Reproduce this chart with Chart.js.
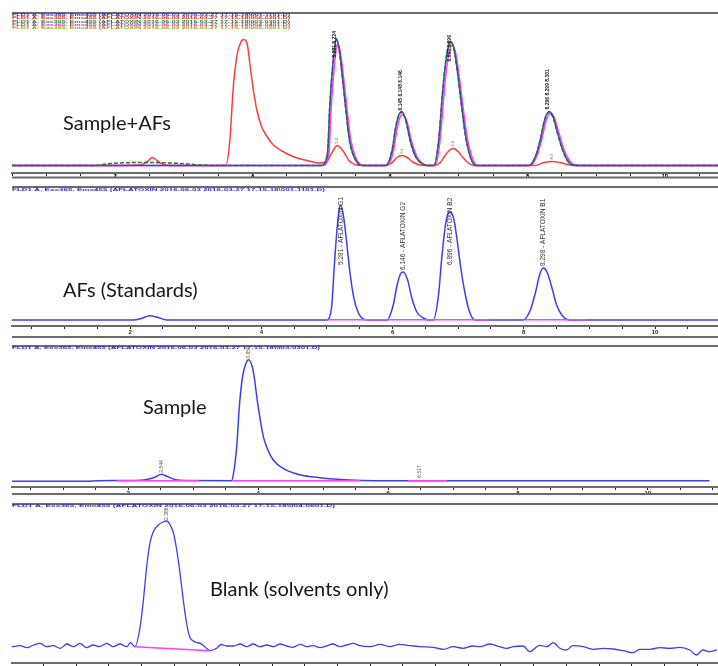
<!DOCTYPE html>
<html>
<head>
<meta charset="utf-8">
<script src="https://cdn.jsdelivr.net/npm/chart.js@4.4.1/dist/chart.umd.min.js"></script>
<style>
  body { margin: 0; background: #fff; }
  #wrap { position: relative; width: 718px; height: 666px; overflow: hidden; }
  canvas { position: absolute; left: 0; }
</style>
</head>
<body>
<div id="wrap">
  <canvas id="p1" width="718" height="182" style="top:0px"></canvas>
  <canvas id="p2" width="718" height="159" style="top:182px"></canvas>
  <canvas id="p3" width="718" height="159" style="top:341px"></canvas>
  <canvas id="p4" width="718" height="166" style="top:500px"></canvas>
</div>
<script>
// ---- data: [time (min), signal] ----

// panel 1: Sample + AFs (overlay of several runs)
const p1Red = [[0.50,0],[1.78,0],[2.36,0.5],[2.47,4],[2.54,8],[2.61,5],[2.70,1],[2.80,0],[3.61,0],[3.67,26],[3.72,79],[3.77,109],[3.82,122],[3.87,126],[3.92,122],[3.96,102],[4.01,76],[4.06,56],[4.13,39],[4.21,29],[4.30,20.7],[4.44,14],[4.59,9],[4.79,5],[4.98,2.5],[5.08,4],[5.14,11],[5.19,17],[5.23,20],[5.29,17],[5.35,11],[5.40,5],[5.49,1],[5.59,0],[5.94,0],[6.03,3],[6.10,8],[6.17,10],[6.25,8],[6.32,4],[6.41,1],[6.49,0],[6.65,0],[6.73,3],[6.80,10],[6.86,15],[6.92,17],[6.99,14],[7.06,8],[7.13,3],[7.22,0],[8.11,0],[8.24,3],[8.36,4],[8.47,3],[8.62,0.5],[8.73,0],[10.77,0]];
const p1Green = [[0.50,0],[1.68,0],[1.93,2],[2.51,3],[2.95,2],[3.24,0.5],[3.45,0],[5.00,0],[5.09,13],[5.12,57],[5.16,96],[5.20,122],[5.22,126],[5.26,115],[5.31,85],[5.36,53],[5.41,24],[5.48,8],[5.55,1],[5.61,0],[5.94,0],[6.03,16],[6.08,38],[6.13,51],[6.17,53],[6.23,44],[6.29,25],[6.37,9],[6.46,2],[6.53,0],[6.64,0],[6.71,28],[6.76,71],[6.81,105],[6.86,122],[6.88,123],[6.93,116],[6.98,93],[7.04,59],[7.10,28],[7.17,8],[7.25,0],[8.02,0],[8.12,10],[8.19,28],[8.25,46],[8.31,53],[8.37,48],[8.43,33],[8.51,15],[8.58,5],[8.65,0.5],[8.75,0],[10.77,0]];
const p1Blue = [[0.50,0],[5.00,0],[5.09,12],[5.12,55],[5.16,95],[5.20,121],[5.22,127],[5.26,116],[5.31,86],[5.36,54],[5.41,25],[5.48,8],[5.55,1],[5.61,0],[5.94,0],[6.03,15],[6.08,37],[6.13,51],[6.17,54],[6.23,45],[6.29,26],[6.37,9],[6.46,2],[6.53,0],[6.64,0],[6.71,27],[6.76,70],[6.81,104],[6.86,122],[6.88,124],[6.93,117],[6.98,94],[7.04,60],[7.10,29],[7.17,8],[7.25,0],[8.02,0],[8.12,10],[8.19,27],[8.25,46],[8.31,54],[8.37,49],[8.43,34],[8.51,16],[8.58,5],[8.65,0.5],[8.75,0],[10.77,0]];
const p1Magenta = [[0.50,0],[5.02,0],[5.11,12],[5.14,54],[5.18,92],[5.22,118],[5.24,122],[5.28,112],[5.33,84],[5.38,53],[5.43,25],[5.50,8],[5.57,1],[5.63,0],[5.96,0],[6.05,15],[6.10,36],[6.15,49],[6.19,51],[6.25,43],[6.31,25],[6.39,9],[6.48,2],[6.55,0],[6.66,0],[6.73,27],[6.78,68],[6.83,101],[6.88,118],[6.90,120],[6.95,114],[7.00,92],[7.06,59],[7.12,29],[7.19,9],[7.27,0],[8.04,0],[8.14,10],[8.21,27],[8.27,45],[8.33,52],[8.39,48],[8.45,34],[8.53,16],[8.60,6],[8.67,1],[8.77,0],[10.77,0]];

// panel 2: AFs (standards)
const p2Blue = [[0.20,0],[2.05,0],[2.17,1.5],[2.30,4.3],[2.43,2.5],[2.56,0],[4.99,0],[5.07,12],[5.11,52],[5.15,88],[5.19,112],[5.21,115],[5.25,105],[5.30,78],[5.35,48],[5.41,22],[5.48,7],[5.55,1],[5.63,0],[5.92,0],[6.01,15],[6.07,35],[6.12,46],[6.16,48],[6.23,40],[6.29,23],[6.37,8],[6.47,2],[6.55,0],[6.62,0],[6.70,25],[6.75,62],[6.80,92],[6.85,107],[6.88,108],[6.93,102],[6.98,82],[7.04,52],[7.11,25],[7.18,7],[7.26,0],[7.99,0],[8.10,10],[8.18,28],[8.24,45],[8.30,52],[8.36,47],[8.43,32],[8.50,15],[8.58,5],[8.66,0.5],[8.75,0],[10.96,0]];
const p2Base = [[4.99,0.3],[7.48,0.3],[7.50,null],[8.01,0.3],[8.96,0.3]];
const p2PeakT = [5.21, 6.16, 6.88, 8.30];
const p2PeakH = [55, 50, 55, 54];
const p2PeakNames = ["5.281 - AFLATOXIN G1", "6.146 - AFLATOXIN G2", "6.896 - AFLATOXIN B2", "8.298 - AFLATOXIN B1"];

// panel 3: sample
const p3Blue = [[0.21,-0.5],[1.35,-0.5],[1.55,0],[2.10,0.3],[2.26,1],[2.41,3.5],[2.51,6.4],[2.61,4],[2.73,1],[2.90,0.2],[3.59,0],[3.62,7],[3.67,34],[3.71,74],[3.76,104],[3.81,117],[3.85,121],[3.92,111],[4.00,74],[4.08,44],[4.13,34],[4.23,21],[4.39,12],[4.64,6],[4.95,3],[5.41,0.7],[5.80,0],[10.95,0]];
const p3Base = [[1.82,0],[3.09,0],[3.30,null],[3.60,0],[5.57,0],[5.90,null],[6.31,0],[6.91,0]];

// panel 4: blank (solvents only)
const p4Blue = [[0.02,0.3],[0.14,1.3],[0.25,-0.7],[0.35,2],[0.45,3.7],[0.55,0.3],[0.65,1.3],[0.76,-1.3],[0.86,3],[0.96,0.3],[1.06,3.7],[1.16,-0.7],[1.26,2],[1.36,0.3],[1.47,3.7],[1.57,0.3],[1.67,3],[1.78,0.3],[1.83,4.3],[1.90,0.3],[1.98,20],[2.03,47],[2.08,80],[2.13,104],[2.18,115],[2.26,122],[2.33,125],[2.39,126],[2.44,122],[2.49,114],[2.54,97],[2.59,74],[2.64,47],[2.69,24],[2.74,10],[2.82,5],[2.90,3.7],[2.97,0.3],[3.05,-3.7],[3.15,-1.3],[3.22,2.5],[3.30,1],[3.41,1],[3.51,3],[3.61,0.3],[3.71,3],[3.81,0.3],[3.92,2],[4.02,0.3],[4.12,3],[4.22,1],[4.32,-0.3],[4.43,2.7],[4.53,0.3],[4.63,1.3],[4.73,-0.7],[4.83,1],[4.93,3],[5.04,0.3],[5.14,2],[5.24,3.7],[5.34,1.3],[5.50,0.3],[5.65,2.7],[5.80,0.3],[5.95,2.7],[6.11,1.3],[6.26,0.3],[6.46,-0.3],[6.62,-2.3],[6.77,0.3],[6.92,-1.3],[7.07,1],[7.18,0.3],[7.33,3],[7.48,0.3],[7.59,-1.3],[7.69,0.3],[7.84,1],[7.94,-4.7],[8.09,1.7],[8.20,0.3],[8.30,4.3],[8.40,-1.3],[8.50,-3],[8.60,1.3],[8.76,0.3],[8.91,-2.3],[9.06,-1.3],[9.22,-2],[9.37,-3.7],[9.52,-5.7],[9.62,-2.3],[9.78,-2.3],[9.93,-0.7],[10.08,-1.3],[10.24,-0.3],[10.39,-3],[10.49,-8],[10.59,-3],[10.69,-4.7],[10.80,-3]];
const p4Base = [[1.90,0.3],[3.05,-3.7]];

// tiny run headers (unreadable in the original, approximated)
const hdr = "FLD1 A, Ex=365, Em=455 (AFLATOXIN 2016-06-03 2016-03-27 17-15-18\\";

const BLUE = '#3d3df2', MAGENTA = '#ff3cff', RED = '#ff3b3b', GREEN = '#1f7a1f';

function trace(pairs, color, order, extra) {
    return Object.assign({
        data: pairs.map(p => ({ x: p[0], y: p[1] })),
        borderColor: color,
        borderWidth: 1.5,
        pointRadius: 0,
        fill: false,
        spanGaps: false,
        order: order
    }, extra || {});
}

let decorCfg = {}; // per-canvas decorations (frame lines, headers, labels)

const decor = {
    id: 'decor',
    afterDraw(chart) {
        const o = decorCfg[chart.canvas.id];
        const ctx = chart.ctx, a = chart.chartArea;
        const xs = chart.scales.x, ys = chart.scales.y;
        ctx.save();
        ctx.strokeStyle = '#6b6b6b';
        ctx.lineWidth = 2;
        ctx.beginPath();
        ctx.moveTo(a.left, a.top); ctx.lineTo(a.right, a.top);
        if (o.lowerLine) { ctx.moveTo(a.left, o.lowerLine); ctx.lineTo(a.right, o.lowerLine); }
        ctx.stroke();

        // squeezed header lines
        o.headers.forEach(h => {
            ctx.save();
            ctx.font = 'bold 4px "Liberation Sans"';
            ctx.textBaseline = 'middle';
            const w = ctx.measureText(h.text).width;
            ctx.translate(a.left, h.y);
            ctx.scale(h.w / w, 1);
            ctx.fillStyle = h.color;
            ctx.fillText(h.text, 0, 0);
            ctx.restore();
        });

        // panel caption
        ctx.fillStyle = '#161616';
        ctx.font = '20px Lato';
        ctx.textAlign = 'left';
        ctx.textBaseline = 'alphabetic';
        ctx.fillText(o.title.text, o.title.x, o.title.y);

        // rotated peak labels
        o.marks.forEach(m => {
            ctx.save();
            ctx.translate(xs.getPixelForValue(m.t), ys.getPixelForValue(m.h));
            ctx.rotate(-Math.PI / 2);
            ctx.font = (m.bold ? 'bold ' : '') + m.size + 'px "Liberation Sans"';
            ctx.fillStyle = m.color;
            ctx.textAlign = 'left';
            ctx.textBaseline = 'middle';
            ctx.fillText(m.text, 0, 0);
            ctx.restore();
        });
        ctx.restore();
    }
};

function makePanel(id, cfg) {
    decorCfg[id] = cfg.decor;
    return new Chart(document.getElementById(id), {
        type: 'line',
        data: { datasets: cfg.datasets },
        options: {
            responsive: false,
            animation: false,
            devicePixelRatio: 1,
            layout: { padding: { left: 12, right: 0, top: cfg.top, bottom: 0 } },
            elements: { point: { radius: 0 }, line: { cubicInterpolationMode: 'monotone' } },
            plugins: { legend: { display: false }, tooltip: { enabled: false } },
            scales: {
                x: {
                    type: 'linear',
                    min: cfg.xMin,
                    max: cfg.xMax,
                    afterFit: s => { s.height = cfg.axisH; },
                    border: { display: true, color: '#6b6b6b', width: 2 },
                    grid: { drawOnChartArea: false, tickLength: 3, color: '#222', lineWidth: 1 },
                    ticks: {
                        stepSize: 0.5, includeBounds: false, autoSkip: false, maxRotation: 0,
                        padding: cfg.tickPad, color: '#222',
                        font: { size: 6, weight: 'bold', family: 'Liberation Sans' },
                        callback: v => (v % 2 === 0 ? String(v) : '')
                    }
                },
                y: { display: false, min: cfg.yMin, max: cfg.yMax }
            }
        },
        plugins: [decor]
    });
}

makePanel('p1', {
    top: 13, axisH: 9, xMin: 0.50, xMax: 10.77, yMin: -7.5, yMax: 152.5, tickPad: -3,
    datasets: [
        trace(p1Green, GREEN, 0, { borderDash: [4, 2] }),
        trace(p1Blue, BLUE, 1),
        trace(p1Magenta, MAGENTA, 2),
        trace(p1Red, RED, 3)
    ],
    decor: {
        lowerLine: 177.5,
        title: { text: 'Sample+AFs', x: 63, y: 130 },
        headers: [
            { text: hdr + '001-1101.D)', color: '#2b2bd0', y: 15, w: 278 },
            { text: hdr + '002-0201.D)', color: '#e02020', y: 18.3, w: 278 },
            { text: hdr + '003-0301.D)', color: '#1f7a1f', y: 21.7, w: 278 },
            { text: hdr + '004-0401.D)', color: '#e020e0', y: 25, w: 278 },
            { text: hdr + '005-0501.D)', color: '#9a9a20', y: 28.3, w: 278 }
        ],
        marks: [
            { t: 5.20, h: 108, text: '5.221 5.224', size: 5, bold: true, color: '#111' },
            { t: 6.16, h: 55, text: '6.145 6.148 6.146', size: 5, bold: true, color: '#111' },
            { t: 6.86, h: 104, text: '6.893 6.896', size: 5, bold: true, color: '#111' },
            { t: 8.29, h: 56, text: '8.296 8.299 8.301', size: 5, bold: true, color: '#111' },
            { t: 5.23, h: 22, text: '5.2', size: 4, color: '#6b5a2a' },
            { t: 6.17, h: 12, text: '6.1', size: 4, color: '#6b5a2a' },
            { t: 6.92, h: 19, text: '6.9', size: 4, color: '#6b5a2a' },
            { t: 8.36, h: 6, text: '8.3', size: 4, color: '#6b5a2a' }
        ]
    }
});

makePanel('p2', {
    top: 5, axisH: 15, xMin: 0.20, xMax: 10.96, yMin: -6, yMax: 133, tickPad: 0,
    datasets: [
        trace(p2Base, MAGENTA, 0),
        trace(p2Blue, BLUE, 1)
    ],
    decor: {
        lowerLine: 155,
        title: { text: 'AFs (Standards)', x: 63, y: 115 },
        headers: [{ text: hdr + '001-1101.D)', color: '#2b2bd0', y: 8, w: 313 }],
        marks: p2PeakT.map((t, i) => ({ t: t, h: p2PeakH[i], text: p2PeakNames[i], size: 6.5, color: '#333' }))
    }
});

makePanel('p3', {
    top: 5, axisH: 13, xMin: 0.21, xMax: 11.08, yMin: -6.3, yMax: 134.7, tickPad: 0,
    datasets: [
        trace(p3Base, MAGENTA, 0),
        trace(p3Blue, BLUE, 1)
    ],
    decor: {
        lowerLine: 153,
        title: { text: 'Sample', x: 143, y: 73 },
        headers: [{ text: hdr + '003-0301.D)', color: '#2b2bd0', y: 7, w: 308 }],
        marks: [
            { t: 2.51, h: 8, text: '2.544', size: 5, color: '#6b5a3a' },
            { t: 3.85, h: 122, text: '3.850', size: 5, color: '#6b5a3a' },
            { t: 6.49, h: 3, text: '6.517', size: 5, color: '#6b5a3a' }
        ]
    }
});

makePanel('p4', {
    top: 4, axisH: 3, xMin: 0.02, xMax: 10.82, yMin: -16, yMax: 143, tickPad: 0,
    datasets: [
        trace(p4Base, MAGENTA, 0),
        trace(p4Blue, BLUE, 1, { borderWidth: 1.3 })
    ],
    decor: {
        lowerLine: null,
        title: { text: 'Blank (solvents only)', x: 210, y: 96 },
        headers: [{ text: hdr + '004-0601.D)', color: '#2b2bd0', y: 5.5, w: 323 }],
        marks: [{ t: 2.39, h: 127, text: '2.386', size: 5, color: '#6b5a3a' }]
    }
});
</script>
</body>
</html>
